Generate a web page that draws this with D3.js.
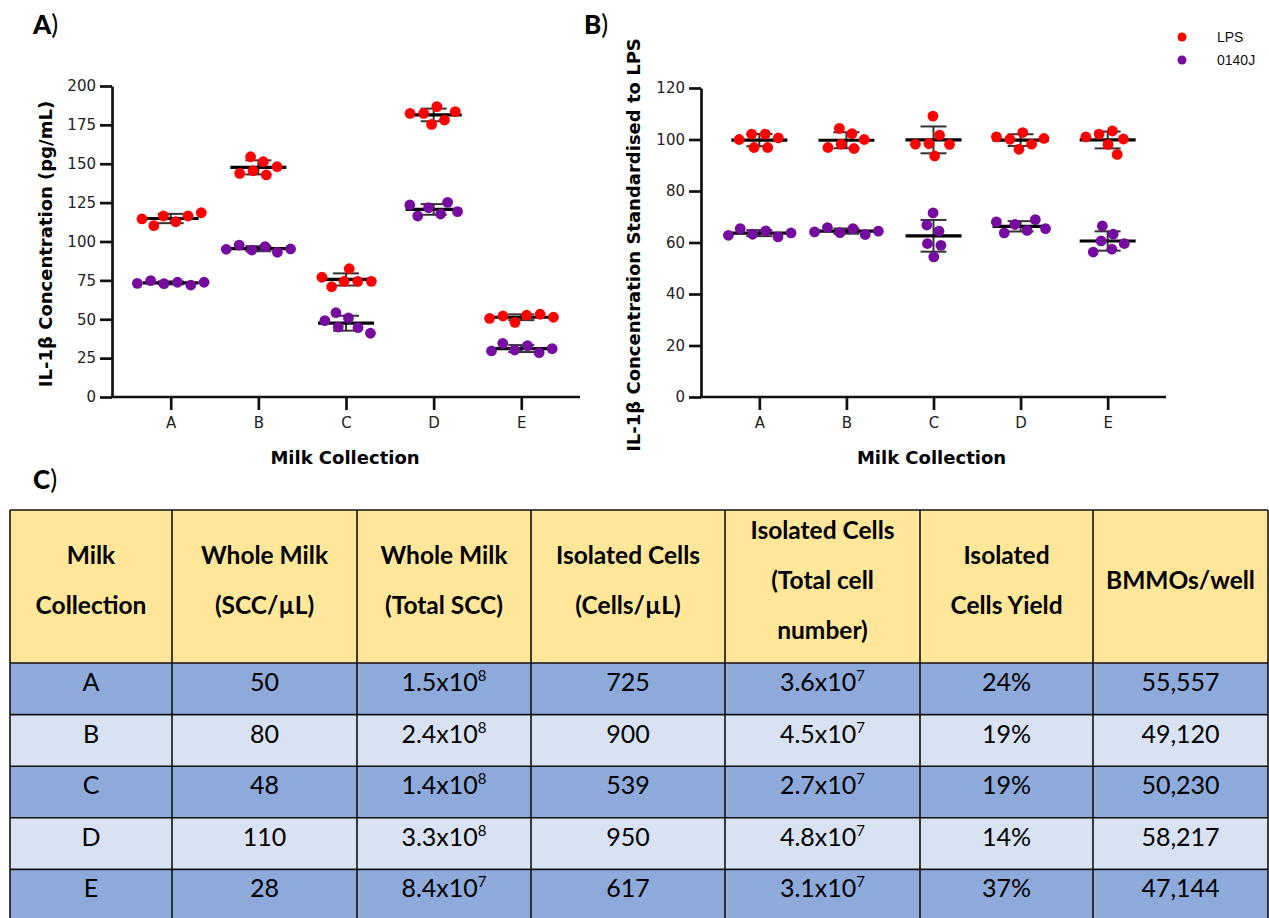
<!DOCTYPE html>
<html>
<head>
<meta charset="utf-8">
<script src="https://cdn.jsdelivr.net/npm/d3@7"></script>
<style>
  body { margin: 0; background: #fff; }
</style>
</head>
<body>
<div id="chart"></div>
<script>
// ---- data ----
const collections = ["A", "B", "C", "D", "E"];
const seriesNames = ["LPS", "0140J"];

// A) IL-1b concentration (pg/mL), six replicates per collection, left to right
const concLPS = [
  [114.5, 116.4, 110.2, 112.7, 116.4, 118.5],
  [143.8, 154.5, 145.5, 151.3, 142.8, 148.1],
  [77.0, 70.9, 74.4, 74.4, 82.5, 74.4],
  [182.4, 182.4, 175.3, 186.7, 178.1, 183.5],
  [50.6, 52.1, 48.0, 52.6, 53.2, 51.3]
];
const conc0140J = [
  [73.1, 74.8, 72.9, 73.8, 72.0, 73.8],
  [95.0, 97.7, 94.5, 96.7, 93.1, 95.2],
  [49.1, 54.2, 50.8, 45.0, 44.6, 41.0],
  [123.5, 116.4, 121.7, 125.2, 117.7, 119.2],
  [29.6, 34.5, 30.2, 33.0, 28.5, 31.1]
];

// B) standardised to LPS
const stdLPS = [
  [100.0, 102.1, 102.1, 96.9, 96.9, 100.6],
  [96.9, 104.3, 98.2, 102.3, 96.5, 100.0],
  [98.2, 109.1, 98.4, 93.6, 101.7, 98.1],
  [101.0, 100.1, 96.2, 102.7, 98.2, 100.4],
  [101.0, 102.1, 98.1, 103.3, 94.2, 100.2]
];
const std0140J = [
  [62.8, 65.4, 63.2, 64.5, 62.2, 63.7],
  [64.1, 65.8, 63.8, 65.4, 63.1, 64.4],
  [66.8, 71.5, 64.4, 59.6, 58.9, 54.4],
  [68.0, 63.7, 67.0, 68.9, 64.7, 65.4],
  [60.6, 56.3, 66.4, 63.2, 57.4, 59.6]
];

const ticksA = [0, 25, 50, 75, 100, 125, 150, 175, 200];
const ticksB = [0, 20, 40, 60, 80, 100, 120];

// C) table
const tableHeaders = [
  ["Milk", "Collection"],
  ["Whole Milk", "(SCC/\u00b5L)"],
  ["Whole Milk", "(Total SCC)"],
  ["Isolated Cells", "(Cells/\u00b5L)"],
  ["Isolated Cells", "(Total cell", "number)"],
  ["Isolated", "Cells Yield"],
  ["BMMOs/well"]
];
const wholeMilkSCC = [50, 80, 48, 110, 28];
const wholeMilkTotalMant = [1.5, 2.4, 1.4, 3.3, 8.4];
const wholeMilkTotalExp = [8, 8, 8, 8, 7];
const isolatedPerUL = [725, 900, 539, 950, 617];
const isolatedTotalMant = [3.6, 4.5, 2.7, 4.8, 3.1];
const isolatedTotalExp = [7, 7, 7, 7, 7];
const yieldPct = [24, 19, 19, 14, 37];
const bmmosPerWell = [55557, 49120, 50230, 58217, 47144];

// ---- layout ----
const width = 1269, height = 918;
const colors = {"LPS": "#ff0000", "0140J": "#760b9f"};
const dotR = 5.4;
const chartFont = "DejaVu Sans", tableFont = "Lato";

const svg = d3.create("svg")
  .attr("width", width)
  .attr("height", height);

svg.append("rect").attr("width", width).attr("height", height).attr("fill", "#fff");

// beeswarm-ish x positions: y fixed, collide sideways
function swarm(vals, cx, y) {
  const nodes = vals.map((v, i) => ({v: v, x: cx + (i - (vals.length - 1) / 2) * 6, y: y(v), fy: y(v)}));
  const sim = d3.forceSimulation(nodes)
    .force("x", d3.forceX(cx).strength(0.04))
    .force("collide", d3.forceCollide(dotR + 1.4).iterations(4))
    .stop();
  for (let i = 0; i < 300; i++) sim.tick();
  return nodes;
}

function drawPanel(opts) {
  const g = svg.append("g");
  const x = d3.scalePoint().domain(collections).range(opts.xRange).padding(0.67);
  const y = d3.scaleLinear().domain(opts.yDomain).range(opts.yRange);

  // axes
  const yAxis = g.append("g")
    .attr("transform", `translate(${opts.xRange[0]},0)`)
    .call(d3.axisLeft(y).tickValues(opts.ticks).tickSize(12).tickSizeOuter(0).tickPadding(4));
  const xAxis = g.append("g")
    .attr("transform", `translate(0,${opts.yRange[0]})`)
    .call(d3.axisBottom(x).tickSize(13).tickSizeOuter(0).tickPadding(7));
  [xAxis, yAxis].forEach(a => {
    a.selectAll("path, line").attr("stroke", "#111").attr("stroke-width", 2.7);
    a.selectAll("text").attr("font-family", chartFont).attr("font-size", 15).attr("fill", "#222");
  });
  xAxis.select(".domain").attr("d", `M${opts.xRange[0] - 1.3},0H${opts.xRange[1]}`);

  // error bars + means, then dots
  const groups = [[opts.lps, "LPS"], [opts.j, "0140J"]];
  groups.forEach(([data, name]) => {
    data.forEach((vals, i) => {
      const cx = x(collections[i]);
      const m = d3.mean(vals), sd = d3.deviation(vals);
      const eb = g.append("g").attr("stroke", "#333").attr("stroke-width", 2);
      eb.append("line").attr("x1", cx).attr("x2", cx).attr("y1", y(m + sd)).attr("y2", y(m - sd));
      [m + sd, m - sd].forEach(v => {
        eb.append("line").attr("x1", cx - 13).attr("x2", cx + 13).attr("y1", y(v)).attr("y2", y(v));
      });
      g.append("line")
        .attr("x1", cx - 28).attr("x2", cx + 28)
        .attr("y1", y(m)).attr("y2", y(m))
        .attr("stroke", "#000").attr("stroke-width", 3.2);
    });
  });
  groups.forEach(([data, name]) => {
    data.forEach((vals, i) => {
      const cx = x(collections[i]);
      g.append("g").selectAll("circle")
        .data(swarm(vals, cx, y))
        .join("circle")
        .attr("cx", d => d.x)
        .attr("cy", d => d.y)
        .attr("r", dotR)
        .attr("fill", colors[name]);
    });
  });

  // titles
  g.append("text")
    .attr("x", (opts.xRange[0] + opts.xRange[1]) / 2 + opts.xTitleShift)
    .attr("y", 464)
    .attr("text-anchor", "middle")
    .attr("font-family", chartFont)
    .attr("font-size", 18).attr("font-weight", "bold")
    .text("Milk Collection");
  g.append("text")
    .attr("transform", `translate(${opts.yTitleX},${opts.yTitleY}) rotate(-90)`)
    .attr("text-anchor", "middle")
    .attr("font-family", chartFont)
    .attr("font-size", 18).attr("font-weight", "bold")
    .text(opts.yTitle);
}

drawPanel({
  xRange: [112, 580], yDomain: [0, 200], yRange: [397, 86], ticks: ticksA,
  lps: concLPS, j: conc0140J, xTitleShift: -1,
  yTitle: "IL-1\u03b2 Concentration (pg/mL)", yTitleX: 52, yTitleY: 244
});
drawPanel({
  xRange: [701, 1166], yDomain: [0, 120], yRange: [397, 88], ticks: ticksB,
  lps: stdLPS, j: std0140J, xTitleShift: -2,
  yTitle: "IL-1\u03b2 Concentration Standardised to LPS", yTitleX: 640, yTitleY: 245
});

// legend
const legend = svg.append("g").attr("transform", "translate(1182,37)");
seriesNames.forEach((name, i) => {
  legend.append("circle").attr("cx", 0).attr("cy", i * 23).attr("r", 4.5).attr("fill", colors[name]);
  legend.append("text").attr("x", 35).attr("y", i * 23).attr("dy", "0.36em")
    .attr("font-family", "Liberation Sans").attr("font-size", 14).attr("fill", "#111")
    .text(name);
});

// panel letters
[["A", 33, 34], ["B", 584, 34], ["C", 33, 489]].forEach(([l, px, py]) => {
  const t = svg.append("text").attr("x", px).attr("y", py)
    .attr("font-family", tableFont).attr("font-size", 26).attr("fill", "#000");
  t.append("tspan").attr("font-weight", "900").text(l);
  t.append("tspan").attr("font-weight", "normal").text(")");
});

// ---- table ----
const colEdges = [10, 172, 357, 531, 725, 920, 1093, 1268];
const tableTop = 510, headerBottom = 663, rowH = 51.6;
const headFill = "#ffe699", rowFills = ["#8eaadb", "#d9e2f3"];
const tbl = svg.append("g");

tbl.append("rect").attr("x", colEdges[0]).attr("y", tableTop)
  .attr("width", colEdges[7] - colEdges[0]).attr("height", headerBottom - tableTop).attr("fill", headFill);
collections.forEach((c, r) => {
  tbl.append("rect").attr("x", colEdges[0]).attr("y", headerBottom + r * rowH)
    .attr("width", colEdges[7] - colEdges[0]).attr("height", rowH).attr("fill", rowFills[r % 2]);
});

const colMid = i => (colEdges[i] + colEdges[i + 1]) / 2;

tableHeaders.forEach((lines, i) => {
  const t = tbl.append("text").attr("text-anchor", "middle")
    .attr("font-family", tableFont)
    .attr("font-size", 24.5).attr("font-weight", "bold").attr("fill", "#000");
  lines.forEach((ln, k) => {
    t.append("tspan").attr("x", colMid(i))
      .attr("y", 589 + (k - (lines.length - 1) / 2) * 50)
      .text(ln);
  });
});

const fmt1 = d3.format(".1f"), fmtComma = d3.format(",");
collections.forEach((c, r) => {
  const base = headerBottom + r * rowH + 28;
  const cells = [
    [c], [String(wholeMilkSCC[r])],
    [fmt1(wholeMilkTotalMant[r]) + "x10", wholeMilkTotalExp[r]],
    [String(isolatedPerUL[r])],
    [fmt1(isolatedTotalMant[r]) + "x10", isolatedTotalExp[r]],
    [yieldPct[r] + "%"],
    [fmtComma(bmmosPerWell[r])]
  ];
  cells.forEach((cell, i) => {
    const t = tbl.append("text").attr("x", colMid(i)).attr("y", base)
      .attr("text-anchor", "middle").attr("font-family", tableFont)
      .attr("font-size", 25).attr("fill", "#000");
    t.append("tspan").text(cell[0]);
    if (cell.length > 1) {
      t.append("tspan").attr("font-size", 15).attr("dy", -10).text(cell[1]);
    }
  });
});

// grid lines
const gridG = tbl.append("g").attr("stroke", "#111").attr("stroke-width", 1.6);
colEdges.forEach(xv => {
  gridG.append("line").attr("x1", xv).attr("x2", xv).attr("y1", tableTop).attr("y2", height);
});
[tableTop, headerBottom].concat(collections.map((c, r) => headerBottom + (r + 1) * rowH)).forEach(yv => {
  gridG.append("line").attr("x1", colEdges[0]).attr("x2", colEdges[7]).attr("y1", yv).attr("y2", yv);
});

document.getElementById("chart").appendChild(svg.node());
</script>
</body>
</html>
